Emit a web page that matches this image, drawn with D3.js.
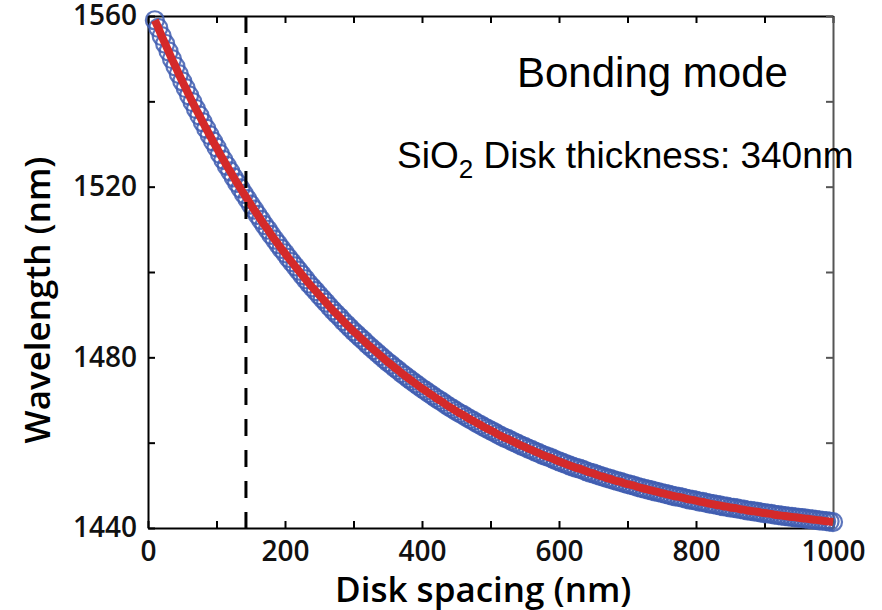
<!DOCTYPE html>
<html>
<head>
<meta charset="utf-8">
<script src="https://cdn.jsdelivr.net/npm/d3@7"></script>
<style>
  body { margin: 0; background: #fff; }
  svg { display: block; }
  .tick text { font-family: "Open Sans", sans-serif; font-weight: 600; font-size: 28px; fill: #111; }
  .axis path, .axis line { stroke: #000; stroke-width: 2; }
</style>
</head>
<body>
<div id="chart"></div>
<script>
// disk spacing samples (nm), every 5 nm from 10 to 1000
var spacingStart = 10, spacingStep = 5;
// simulated resonance wavelength (nm)
var wavelength = [
  1559.0, 1557.2, 1555.3, 1553.5, 1551.7, 1549.9, 1548.2, 1546.4, 1544.7, 1543.1,
  1541.4, 1539.8, 1538.2, 1536.7, 1535.1, 1533.6, 1532.1, 1530.6, 1529.2, 1527.7,
  1526.3, 1524.9, 1523.6, 1522.2, 1520.9, 1519.6, 1518.3, 1517.1, 1515.8, 1514.6,
  1513.4, 1512.2, 1511.0, 1509.9, 1508.7, 1507.6, 1506.5, 1505.4, 1504.4, 1503.3,
  1502.3, 1501.3, 1500.3, 1499.3, 1498.3, 1497.3, 1496.4, 1495.5, 1494.6, 1493.7,
  1492.8, 1491.9, 1491.0, 1490.2, 1489.4, 1488.5, 1487.7, 1486.9, 1486.1, 1485.4,
  1484.6, 1483.9, 1483.1, 1482.4, 1481.7, 1481.0, 1480.3, 1479.6, 1478.9, 1478.3,
  1477.6, 1477.0, 1476.3, 1475.7, 1475.1, 1474.5, 1473.9, 1473.3, 1472.7, 1472.2,
  1471.6, 1471.1, 1470.5, 1470.0, 1469.5, 1468.9, 1468.4, 1467.9, 1467.4, 1466.9,
  1466.5, 1466.0, 1465.5, 1465.1, 1464.6, 1464.2, 1463.7, 1463.3, 1462.9, 1462.5,
  1462.0, 1461.6, 1461.2, 1460.9, 1460.5, 1460.1, 1459.7, 1459.3, 1459.0, 1458.6,
  1458.3, 1457.9, 1457.6, 1457.2, 1456.9, 1456.6, 1456.3, 1455.9, 1455.6, 1455.3,
  1455.0, 1454.7, 1454.4, 1454.1, 1453.9, 1453.6, 1453.3, 1453.0, 1452.8, 1452.5,
  1452.2, 1452.0, 1451.7, 1451.5, 1451.2, 1451.0, 1450.8, 1450.5, 1450.3, 1450.1,
  1449.9, 1449.6, 1449.4, 1449.2, 1449.0, 1448.8, 1448.6, 1448.4, 1448.2, 1448.0,
  1447.8, 1447.6, 1447.4, 1447.3, 1447.1, 1446.9, 1446.7, 1446.6, 1446.4, 1446.2,
  1446.1, 1445.9, 1445.7, 1445.6, 1445.4, 1445.3, 1445.1, 1445.0, 1444.8, 1444.7,
  1444.6, 1444.4, 1444.3, 1444.1, 1444.0, 1443.9, 1443.8, 1443.6, 1443.5, 1443.4,
  1443.3, 1443.1, 1443.0, 1442.9, 1442.8, 1442.7, 1442.6, 1442.5, 1442.4, 1442.3,
  1442.2, 1442.1, 1442.0, 1441.9, 1441.8, 1441.7, 1441.6, 1441.5, 1441.4
];
var xTicks = [0, 100, 200, 300, 400, 500, 600, 700, 800, 900, 1000];
var yTicks = [1440, 1460, 1480, 1500, 1520, 1540, 1560];
var markedSpacing = 143;   // dashed line position (nm)

var width = 882, height = 610,
    margin = { top: 16, right: 49, bottom: 82, left: 148 },
    innerW = width - margin.left - margin.right,
    innerH = height - margin.top - margin.bottom;

var data = wavelength.map(function(w, i) {
  return { x: spacingStart + i * spacingStep, y: w };
});

var x = d3.scaleLinear().domain([0, 1000]).range([0, innerW]);
var y = d3.scaleLinear().domain([1440, 1560]).range([innerH, 0]);

var svg = d3.select('#chart')
            .append('svg')
              .attr('width', width)
              .attr('height', height)
            .append('g')
              .attr('transform', 'translate(' + margin.left + ',' + margin.top + ')');

// axes: ticks point inward, labels only at every other tick
svg.append('g')
   .attr('class', 'axis')
   .attr('transform', 'translate(0,' + innerH + ')')
   .call(d3.axisBottom(x).tickValues(xTicks).tickSize(-7).tickSizeOuter(0).tickPadding(13)
           .tickFormat(function(d) { return d % 200 === 0 ? d : ''; }));
svg.append('g')
   .attr('class', 'axis')
   .call(d3.axisTop(x).tickValues(xTicks).tickSize(-7).tickSizeOuter(0).tickFormat(''));
svg.append('g')
   .attr('class', 'axis')
   .call(d3.axisLeft(y).tickValues(yTicks).tickSize(-7).tickSizeOuter(0).tickPadding(11)
           .tickFormat(function(d) { return d % 40 === 0 ? d : ''; }));
svg.append('g')
   .attr('class', 'axis right')
   .attr('transform', 'translate(' + innerW + ',0)')
   .call(d3.axisRight(y).tickValues(yTicks).tickSize(-7).tickSizeOuter(0).tickFormat(''));
svg.selectAll('.right path, .right line').style('stroke', '#555');

// data points
svg.append('g')
   .selectAll('circle')
   .data(data)
   .enter()
   .append('circle')
     .attr('cx', function(d) { return x(d.x); })
     .attr('cy', function(d) { return y(d.y); })
     .attr('r', 9)
     .style('fill', 'none')
     .style('stroke', '#3f5db0')
     .style('stroke-width', 2.2)
     .style('stroke-opacity', 0.85);

// fit line
var line = d3.line()
             .x(function(d) { return x(d.x); })
             .y(function(d) { return y(d.y); })
             .curve(d3.curveMonotoneX);
svg.append('path')
   .datum(data)
   .attr('d', line)
   .style('fill', 'none')
   .style('stroke', '#d42a2a')
   .style('stroke-width', 8);

// marker
svg.append('line')
   .attr('x1', x(markedSpacing)).attr('x2', x(markedSpacing))
   .attr('y1', 0).attr('y2', innerH)
   .style('stroke', '#000')
   .style('stroke-width', 3)
   .style('stroke-dasharray', '17,14');

// axis titles
svg.append('text')
   .attr('x', 335 - margin.left)
   .attr('y', 602 - margin.top)
   .style('font-family', '"Open Sans", sans-serif')
   .style('font-weight', 600)
   .style('font-size', '35px')
   .text('Disk spacing (nm)');
svg.append('text')
   .attr('transform', 'translate(' + (50 - margin.left) + ',' + (300 - margin.top) + ') rotate(-90)')
   .attr('text-anchor', 'middle')
   .style('font-family', '"Open Sans", sans-serif')
   .style('font-weight', 600)
   .style('font-size', '35px')
   .text('Wavelength (nm)');

// annotations
svg.append('text')
   .attr('x', 517 - margin.left)
   .attr('y', 87 - margin.top)
   .style('font-family', '"Liberation Sans", Arial, sans-serif')
   .style('font-size', '42px')
   .text('Bonding mode');
var note = svg.append('text')
   .attr('x', 397 - margin.left)
   .attr('y', 168 - margin.top)
   .style('font-family', '"Liberation Sans", Arial, sans-serif')
   .style('font-size', '37px');
note.append('tspan').text('SiO');
note.append('tspan').attr('dy', 10).style('font-size', '26px').text('2');
note.append('tspan').attr('dy', -10).text(' Disk thickness: 340nm');
</script>
</body>
</html>
